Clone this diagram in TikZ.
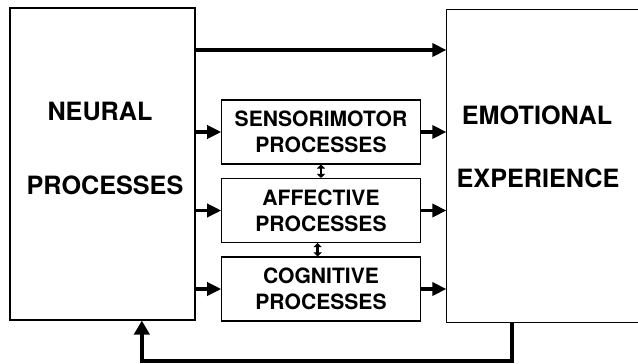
\documentclass[tikz,border=0pt]{standalone}
\usepackage{fontspec}
\setmainfont{TeX Gyre Heros}
\usetikzlibrary{arrows.meta}

\tikzset{
  bigbox/.style={draw,line width=0.9pt,minimum width=#1,minimum height=9.36cm,inner sep=0pt},
  openbox/.style={line width=0.9pt,minimum width=#1,minimum height=9.36cm,inner sep=0pt},
  procbox/.style={draw,line width=0.9pt,minimum width=5.95cm,minimum height=1.92cm,inner sep=0pt},
  biglabel/.style={font=\fontsize{21.5}{26}\selectfont\bfseries},
  proclabel/.style={align=center,font=\fontsize{18}{22.5}\selectfont\bfseries},
  heavy/.style={line width=3.4pt,-{Triangle[length=12pt,width=11pt]}},
  tiny/.style={line width=2pt,{Triangle[length=3.5pt,width=7pt]}-{Triangle[length=3.5pt,width=7pt]}}
}

\begin{document}
\begin{tikzpicture}[x=0.03cm,y=-0.03cm]
  \useasboundingbox (0,0) rectangle (638,364);
  \clip (0,0) rectangle (638,364);

  % The two large blocks; the right one runs off the edge.
  \node[bigbox=5.55cm] (neural) at (102.5,164) {};
  \node[openbox=6.6cm] (emotion) at (557,166) {};
  \draw[line width=0.9pt] (emotion.north east) -| (emotion.south west) -- (emotion.south east);
  \node[biglabel] at (100,111) {NEURAL};
  \node[biglabel] at (105,185) {PROCESSES};
  \node[biglabel] at (537,115) {EMOTIONAL};
  \node[biglabel] at (538,178) {EXPERIENCE};

  % Stack of intermediate processes.
  \node[procbox,proclabel] (sensor) at (321,132) {SENSORIMOTOR\\PROCESSES};
  \node[procbox,proclabel] (affect) at (321,210.5) {AFFECTIVE\\PROCESSES};
  \node[procbox,proclabel] (cognit) at (321,289) {COGNITIVE\\PROCESSES};

  % Direct link along the top.
  \coordinate (toplink) at (0,50);
  \draw[heavy] (neural.east |- toplink) -- (emotion.west |- toplink);

  % Into and out of each intermediate block.
  \foreach \p in {sensor,affect,cognit} {
    \draw[heavy] (neural.east |- \p.west) -- (\p.west);
    \draw[heavy] (\p.east) -- (emotion.west |- \p.east);
  }
  \draw[tiny] (sensor.south) -- (affect.north);
  \draw[tiny] ([xshift=-0.1cm]affect.south) -- ([xshift=-0.1cm]cognit.north);

  % Feedback loop along the bottom.
  \draw[line width=3.4pt,-{Triangle[length=12pt,width=13pt]}]
    ([xshift=-1.35cm]emotion.south) -- ++(0,38) -| ([xshift=1.18cm]neural.south);
\end{tikzpicture}
\end{document}
